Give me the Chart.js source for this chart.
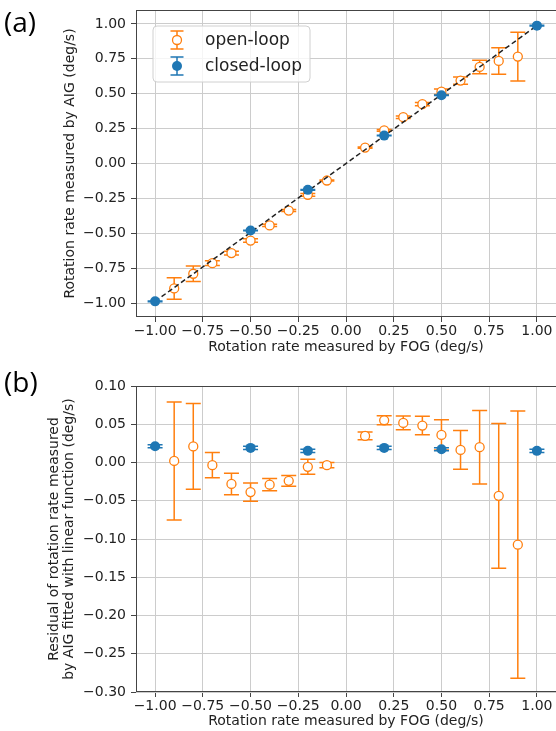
<!DOCTYPE html>
<html>
<head>
<meta charset="utf-8">
<script src="https://cdn.jsdelivr.net/npm/chart.js@4.4.1/dist/chart.umd.min.js"></script>
<style>
  html, body { margin: 0; padding: 0; background: #fff; }
  #wrap { position: relative; width: 556px; height: 731px; overflow: hidden; }
  canvas { position: absolute; left: 0; }
  .panel { position: absolute; left: 4px; font-family: 'Open Sans', sans-serif; font-size: 28px; line-height: 1; color: #000; }
</style>
</head>
<body>
<div id="wrap">
  <canvas id="fitChart" width="556" height="360" style="top:0"></canvas>
  <canvas id="residChart" width="556" height="371" style="top:360px"></canvas>
  <div class="panel" style="top:7px">(a)</div>
  <div class="panel" style="top:367px">(b)</div>
</div>
<script>
// rotation rate by FOG (x) for both loops
const fogOpen = [-0.9, -0.8, -0.7, -0.6, -0.5, -0.4, -0.3, -0.2, -0.1, 0.1, 0.2, 0.3, 0.4, 0.5, 0.6, 0.7, 0.8, 0.9];
const fogClosed = [-1.0, -0.5, -0.2, 0.2, 0.5, 1.0];

// rotation rate by AIG (panel a)
const aigOpen = [-0.895, -0.790, -0.714, -0.642, -0.552, -0.444, -0.337, -0.224, -0.122, 0.114, 0.238, 0.332, 0.425, 0.515, 0.594, 0.692, 0.735, 0.766];
const aigClosed = [-0.988, -0.480, -0.189, 0.200, 0.489, 0.988];

// residuals of the linear fit (panel b)
const residOpen = [0.002, 0.021, -0.0035, -0.028, -0.0387, -0.029, -0.024, -0.0057, -0.0035, 0.0348, 0.0552, 0.0517, 0.0483, 0.0361, 0.0165, 0.020, -0.0435, -0.1074];
const residClosed = [0.0213, 0.0191, 0.0152, 0.0191, 0.0174, 0.0152];

// error bars (same in both panels)
const errOpen = [0.077, 0.056, 0.0165, 0.014, 0.012, 0.008, 0.007, 0.0098, 0.0035, 0.005, 0.006, 0.009, 0.012, 0.0197, 0.0254, 0.048, 0.0946, 0.1746];
const errClosed = [0.002, 0.002, 0.002, 0.002, 0.002, 0.002];

// dashed fit line in panel a
const fitFog = [-1.0, 1.0];
const fitAig = [-0.988, 0.988];

// tick values
const fogTicks = [-1, -0.75, -0.5, -0.25, 0, 0.25, 0.5, 0.75, 1];
const aigTicks = [-1, -0.75, -0.5, -0.25, 0, 0.25, 0.5, 0.75, 1];
const residTicks = [-0.3, -0.25, -0.2, -0.15, -0.1, -0.05, 0, 0.05, 0.1];

const xTitle = 'Rotation rate measured by FOG (deg/s)';
const aigTitle = 'Rotation rate measured by AIG (deg/s)';
const residTitle = ['Residual of rotation rate measured', 'by AIG fitted with linear function (deg/s)'];

const ORANGE = '#ff7f0e';
const BLUE = '#1f77b4';
const CAP = 7.5;
const FONT = 'DejaVu Sans';

const pts = (xs, ys) => xs.map((x, i) => ({ x: x, y: ys[i] }));
const fmt = v => (v < 0 ? '\u2212' : '') + Math.abs(v).toFixed(2);

// vertical error bars with caps, drawn just before each dataset's markers
const errorBars = {
    id: 'errorBars',
    beforeDatasetDraw(chart, args) {
        const ds = chart.data.datasets[args.index];
        if (!ds.errors) return;
        const { ctx, scales: { x, y } } = chart;
        ctx.save();
        ctx.strokeStyle = ds.pointBorderColor;
        ctx.lineWidth = 1.5;
        ds.data.forEach((p, i) => {
            const px = x.getPixelForValue(p.x);
            const top = y.getPixelForValue(p.y + ds.errors[i]);
            const bot = y.getPixelForValue(p.y - ds.errors[i]);
            ctx.beginPath();
            ctx.moveTo(px, top); ctx.lineTo(px, bot);
            ctx.moveTo(px - CAP, top); ctx.lineTo(px + CAP, top);
            ctx.moveTo(px - CAP, bot); ctx.lineTo(px + CAP, bot);
            ctx.stroke();
        });
        ctx.restore();
    }
};

// full box around the plot area
const frame = {
    id: 'frame',
    beforeDatasetsDraw(chart) {
        const { ctx, chartArea: a } = chart;
        ctx.save();
        ctx.strokeStyle = '#444';
        ctx.lineWidth = 1;
        ctx.strokeRect(a.left + 0.5, a.top + 0.5, a.right - a.left, a.bottom - a.top - 1);
        ctx.restore();
    }
};

// matplotlib-like legend with errorbar glyphs
const mplLegend = {
    id: 'mplLegend',
    afterDraw(chart, args, opts) {
        if (!opts.show) return;
        const { ctx } = chart;
        ctx.save();
        ctx.beginPath();
        ctx.roundRect(153, 26, 157, 56, 4);
        ctx.fillStyle = 'rgba(255,255,255,0.8)';
        ctx.fill();
        ctx.strokeStyle = '#d0d0d0';
        ctx.lineWidth = 1;
        ctx.stroke();
        const rows = chart.data.datasets.filter(d => d.errors);
        rows.sort((a, b) => b.order - a.order);
        rows.forEach((ds, i) => {
            const cx = 177, cy = 40 + i * 26;
            ctx.strokeStyle = ds.pointBorderColor;
            ctx.lineWidth = 1.5;
            ctx.beginPath();
            ctx.moveTo(cx, cy - 9); ctx.lineTo(cx, cy + 9);
            ctx.moveTo(cx - 6.5, cy - 9); ctx.lineTo(cx + 6.5, cy - 9);
            ctx.moveTo(cx - 6.5, cy + 9); ctx.lineTo(cx + 6.5, cy + 9);
            ctx.stroke();
            ctx.beginPath();
            ctx.arc(cx, cy, ds.pointRadius, 0, Math.PI * 2);
            ctx.fillStyle = ds.pointBackgroundColor;
            ctx.fill();
            if (ds.pointBorderWidth) {
                ctx.lineWidth = ds.pointBorderWidth;
                ctx.stroke();
            }
            ctx.fillStyle = '#222';
            ctx.font = '17px "' + FONT + '"';
            ctx.textBaseline = 'middle';
            ctx.fillText(ds.label, 205, cy + 1);
        });
        ctx.restore();
    }
};

function makeScales(yMin, yMax, yTicks, yTitle, yTitlePad, xHeight, xTitlePad) {
    const grid = { color: '#cccccc', lineWidth: 1, tickColor: '#444', tickLength: 5 };
    return {
        x: {
            type: 'linear', min: -1.1, max: 1.1,
            afterBuildTicks: s => { s.ticks = fogTicks.map(v => ({ value: v })); },
            afterFit: s => { s.height = xHeight; s.paddingLeft = 0; s.paddingRight = 0; },
            grid: grid,
            border: { display: false },
            ticks: { callback: fmt, color: '#222', padding: 1, maxRotation: 0, font: { family: FONT, size: 14 } },
            title: { display: true, text: xTitle, color: '#222', padding: { top: 0, bottom: xTitlePad }, font: { family: FONT, size: 14 } }
        },
        y: {
            type: 'linear', min: yMin, max: yMax,
            afterBuildTicks: s => { s.ticks = yTicks.map(v => ({ value: v })); },
            afterFit: s => { s.width = 136; s.paddingTop = 0; s.paddingBottom = 0; },
            grid: grid,
            border: { display: false },
            ticks: { callback: fmt, color: '#222', padding: 5, font: { family: FONT, size: 14 } },
            title: { display: true, text: yTitle, color: '#222', padding: { top: yTitlePad, bottom: 0 }, font: { family: FONT, size: 14, lineHeight: 1.1 } }
        }
    };
}

function makeChart(id, openY, closedY, withFit, scales, padTop) {
    const datasets = [{
        type: 'scatter',
        label: 'open-loop',
        data: pts(fogOpen, openY),
        errors: errOpen,
        order: 3,
        pointRadius: 4.5,
        pointBorderWidth: 1.3,
        pointBackgroundColor: '#ffffff',
        pointBorderColor: ORANGE
    }, {
        type: 'scatter',
        label: 'closed-loop',
        data: pts(fogClosed, closedY),
        errors: errClosed,
        order: 1,
        pointRadius: 5,
        pointBorderWidth: 0,
        pointBackgroundColor: BLUE,
        pointBorderColor: BLUE
    }];
    if (withFit) {
        datasets.push({
            type: 'line',
            label: 'fit',
            data: pts(fitFog, fitAig),
            order: 2,
            borderColor: '#222',
            borderWidth: 1.5,
            borderDash: [5, 3],
            pointRadius: 0,
            fill: false
        });
    }
    return new Chart(document.getElementById(id), {
        data: { datasets: datasets },
        options: {
            responsive: false,
            animation: false,
            devicePixelRatio: 1,
            events: [],
            layout: { autoPadding: false, padding: { top: padTop, left: 0, right: 0, bottom: 0 } },
            scales: scales,
            plugins: {
                legend: { display: false },
                tooltip: { enabled: false },
                mplLegend: { show: withFit }
            }
        },
        plugins: [frame, errorBars, mplLegend]
    });
}

const fitChart = makeChart('fitChart', aigOpen, aigClosed, true,
    makeScales(-1.1, 1.1, aigTicks, aigTitle, 62.5, 43, 4), 10);

const residChart = makeChart('residChart', residOpen, residClosed, false,
    makeScales(-0.3, 0.1, residTicks, residTitle, 46.5, 39, 1), 26);
</script>
</body>
</html>
